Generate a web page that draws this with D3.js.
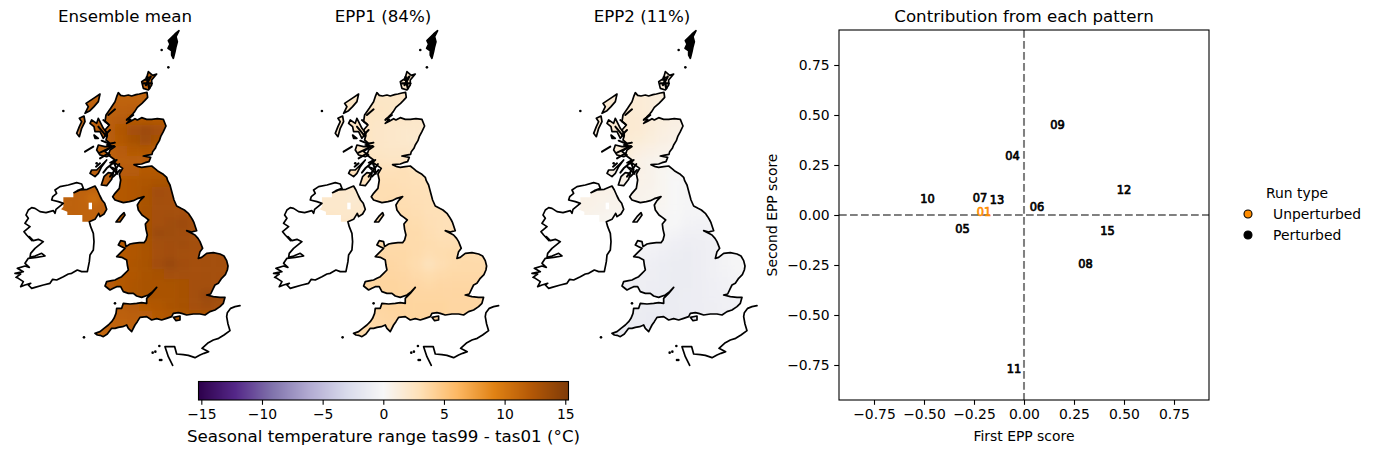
<!DOCTYPE html>
<html><head><meta charset="utf-8">
<script src="https://cdn.jsdelivr.net/npm/d3@7/dist/d3.min.js"></script>
<style>
html,body{margin:0;padding:0;background:#fff}
svg{display:block}
text{font-family:"DejaVu Sans",sans-serif;fill:#000}
</style></head><body>
<svg id="c" width="1376" height="454"></svg>
<script>
// ---------- chart data ----------
const panelTitles = ["Ensemble mean", "EPP1 (84%)", "EPP2 (11%)"];
const colourStops = ["#2d004b","#542788","#8073ac","#b2abd2","#d8daeb","#f7f7f7","#fee0b6","#fdb863","#e08214","#b35806","#7f3b08"];
const colourTicks = [-15,-10,-5,0,5,10,15];
const scoreTicks = [-0.75,-0.5,-0.25,0,0.25,0.5,0.75];
const runIds   = ["01","04","05","06","07","08","09","10","11","12","13","15"];
const epp1Score = [-0.20,-0.057,-0.307,0.065,-0.22,0.308,0.167,-0.483,-0.05,0.50,-0.135,0.417];
const epp2Score = [0.018,0.297,-0.068,0.04,0.088,-0.245,0.449,0.082,-0.77,0.125,0.075,-0.077];
const legendItems = ["Unperturbed","Perturbed"];

// Field values on a coarse raster (rows north to south, columns west to east)
const gbMean = [
[11.5,11.4,11.3,11.3,11.4,11.5,11.5,11.5,11.5,11.5,11.5,11.5,11.5,11.5],
[11.5,11.5,11.4,11.4,11.4,11.5,11.5,11.5,11.5,11.5,11.5,11.5,11.5,11.5],
[11.6,11.6,11.6,11.7,11.5,11.5,11.5,11.5,11.5,11.5,11.5,11.5,11.5,11.5],
[11.6,11.7,12.0,12.1,12.2,12.1,11.9,11.7,11.5,11.5,11.5,11.5,11.5,11.5],
[11.6,11.8,12.4,13.0,13.5,13.0,12.4,12.0,11.6,11.5,11.5,11.5,11.5,11.5],
[11.6,11.8,12.2,12.9,13.4,12.9,12.2,11.8,11.6,11.5,11.5,11.5,11.5,11.5],
[11.5,11.5,11.9,12.2,12.3,12.0,11.7,11.6,11.6,11.5,11.5,11.5,11.5,11.5],
[11.5,11.5,11.7,11.8,11.8,11.6,11.6,11.6,11.6,11.6,11.6,11.6,11.6,11.6],
[11.6,11.6,11.9,12.0,12.1,12.2,12.3,12.3,12.3,12.3,12.3,12.3,12.3,12.3],
[11.7,11.7,12.1,12.3,12.5,12.7,12.8,12.8,12.8,12.8,12.8,12.8,12.8,12.8],
[11.8,11.8,12.1,12.3,12.7,13.2,13.0,13.0,13.0,13.0,13.0,13.0,13.0,13.0],
[11.8,11.8,12.1,12.3,12.8,13.1,13.0,13.0,12.9,12.8,12.8,12.8,12.8,12.8],
[11.8,11.8,12.1,12.3,12.9,13.0,13.1,13.0,12.9,12.8,12.7,12.7,12.7,12.7],
[11.9,11.9,12.1,12.4,12.9,13.0,13.3,13.5,13.0,12.9,12.7,12.7,12.7,12.7],
[11.9,11.9,12.1,12.4,12.8,13.6,13.4,13.2,13.1,13.0,12.8,12.7,12.7,12.7],
[11.9,11.9,12.1,12.4,12.8,13.1,13.2,13.3,13.1,13.0,12.9,12.8,12.7,12.6],
[11.9,11.9,12.1,12.4,12.7,13.0,13.2,13.1,13.0,13.1,13.1,13.0,12.8,12.6],
[11.9,11.9,12.1,12.5,12.8,13.2,13.7,13.2,13.0,13.1,13.1,13.0,12.8,12.6],
[11.9,11.9,12.1,12.4,12.7,12.9,13.1,13.1,13.0,13.1,13.0,12.9,12.7,12.5],
[11.9,11.9,12.1,12.5,12.8,12.7,12.8,12.9,13.1,13.1,13.0,12.9,12.6,12.4],
[11.9,11.9,12.1,12.6,12.8,12.7,12.7,12.9,13.1,13.7,13.4,12.9,12.5,12.3],
[11.6,11.6,11.8,12.0,12.2,12.4,12.7,12.9,13.0,13.3,13.1,12.7,12.4,12.3],
[11.4,11.5,11.6,11.7,11.8,12.1,12.4,12.6,12.7,12.7,12.6,12.4,12.2,12.2],
[11.2,11.3,11.4,11.5,11.6,11.8,12.1,12.3,12.4,12.4,12.3,12.2,12.2,12.2],
[11.0,11.1,11.2,11.3,11.5,11.7,12.0,12.2,12.3,12.3,12.2,12.2,12.2,12.2],
[11.0,11.0,11.1,11.2,11.4,11.6,11.9,12.1,12.2,12.2,12.2,12.2,12.2,12.2]];
const gbEpp1 = [
[2.3,2.3,2.3,2.2,2.2,2.2,2.2,2.2,2.2,2.2,2.2,2.2,2.2,2.2],
[2.3,2.3,2.3,2.3,2.2,2.2,2.2,2.2,2.2,2.2,2.2,2.2,2.2,2.2],
[2.4,2.4,2.4,2.3,2.3,2.2,2.2,2.2,2.2,2.2,2.2,2.2,2.2,2.2],
[2.4,2.4,2.3,2.2,2.2,2.1,2.0,2.0,2.0,2.0,2.0,2.0,2.0,2.0],
[2.4,2.4,2.2,2.1,2.0,2.0,1.9,1.9,1.9,1.9,1.9,1.9,1.9,1.9],
[2.4,2.4,2.2,2.1,2.0,1.9,1.9,1.9,1.9,1.9,1.9,1.9,1.9,1.9],
[2.4,2.4,2.3,2.2,2.2,2.1,2.0,2.0,2.0,2.0,2.0,2.0,2.0,2.0],
[2.6,2.6,2.5,2.4,2.4,2.4,2.5,2.6,2.6,2.6,2.6,2.6,2.6,2.6],
[2.9,2.9,2.9,2.9,3.0,2.7,2.8,2.9,2.9,2.9,2.9,2.9,2.9,2.9],
[3.0,3.0,3.1,3.1,3.0,2.9,2.9,3.0,3.0,3.0,3.0,3.0,3.0,3.0],
[3.0,3.0,3.2,3.2,3.1,3.0,2.9,2.9,3.0,3.0,3.0,3.0,3.0,3.0],
[3.0,3.0,3.2,3.3,3.2,3.1,3.0,2.9,3.0,3.0,3.0,3.0,3.0,3.0],
[3.0,3.0,3.2,3.3,3.3,3.2,3.0,3.0,3.0,3.0,3.0,3.0,3.0,3.0],
[3.2,3.2,3.3,3.4,3.4,3.3,3.1,3.0,3.0,3.1,3.1,3.1,3.1,3.1],
[3.3,3.3,3.4,3.5,3.5,3.4,3.2,3.0,3.1,3.2,3.2,3.2,3.2,3.2],
[3.4,3.4,3.5,3.5,3.5,3.4,3.3,3.2,3.2,3.3,3.2,3.2,3.2,3.2],
[3.5,3.5,3.6,3.6,3.6,3.4,3.2,3.3,3.4,3.4,3.3,3.3,3.3,3.3],
[3.6,3.6,3.7,3.7,3.6,3.3,2.8,3.2,3.4,3.5,3.5,3.4,3.3,3.3],
[3.7,3.7,3.8,3.8,3.7,3.5,3.3,3.5,3.6,3.6,3.6,3.5,3.4,3.3],
[3.8,3.8,3.9,3.9,3.8,3.7,3.6,3.7,3.7,3.7,3.7,3.6,3.5,3.4],
[3.8,3.8,3.9,3.9,3.9,3.8,3.8,3.8,3.8,3.8,3.7,3.7,3.6,3.5],
[3.7,3.7,3.8,3.9,3.9,3.9,3.9,3.9,3.8,3.8,3.8,3.7,3.6,3.5],
[3.6,3.6,3.7,3.8,3.9,3.9,3.9,3.9,3.8,3.8,3.8,3.7,3.6,3.5],
[3.5,3.5,3.6,3.7,3.8,3.9,3.9,3.9,3.8,3.8,3.7,3.7,3.6,3.5],
[3.4,3.5,3.6,3.7,3.8,3.8,3.8,3.8,3.8,3.7,3.7,3.6,3.6,3.5],
[3.4,3.5,3.6,3.7,3.8,3.8,3.8,3.8,3.7,3.7,3.7,3.6,3.6,3.5]];
const gbEpp2 = [
[1.5,1.5,1.5,1.4,1.3,1.3,1.3,1.3,1.3,1.3,1.3,1.3,1.3,1.3],
[1.6,1.6,1.6,1.4,1.2,1.2,1.2,1.2,1.2,1.2,1.2,1.2,1.2,1.2],
[1.7,1.7,1.6,1.4,1.2,1.1,1.0,1.0,1.0,1.0,1.0,1.0,1.0,1.0],
[1.8,1.8,1.7,1.4,1.2,1.0,0.9,0.8,0.8,0.8,0.8,0.8,0.8,0.8],
[1.8,1.8,1.7,1.4,1.1,0.9,0.8,0.7,0.7,0.7,0.7,0.7,0.7,0.7],
[1.7,1.7,1.5,1.2,1.0,0.8,0.6,0.5,0.5,0.5,0.5,0.5,0.5,0.5],
[1.5,1.5,1.1,0.9,0.7,0.5,0.4,0.4,0.4,0.4,0.4,0.4,0.4,0.4],
[1.1,1.1,0.8,0.6,0.4,0.3,0.2,0.2,0.2,0.2,0.2,0.2,0.2,0.2],
[0.9,0.9,0.8,0.6,0.3,0.1,0.0,0.0,0.0,0.0,0.0,0.0,0.0,0.0],
[0.7,0.7,0.7,0.6,0.3,0.0,-0.1,-0.1,-0.1,-0.1,-0.1,-0.1,-0.1,-0.1],
[0.6,0.6,0.6,0.5,0.3,0.0,-0.2,-0.2,-0.2,-0.2,-0.2,-0.2,-0.2,-0.2],
[0.5,0.5,0.5,0.4,0.3,0.0,-0.2,-0.3,-0.3,-0.3,-0.3,-0.3,-0.3,-0.3],
[0.4,0.4,0.4,0.4,0.2,0.0,-0.3,-0.3,-0.3,-0.3,-0.3,-0.3,-0.3,-0.3],
[0.3,0.3,0.3,0.3,0.1,-0.1,-0.4,-0.5,-0.4,-0.3,-0.2,-0.2,-0.2,-0.2],
[0.1,0.1,0.0,0.0,-0.1,-0.4,-0.7,-0.7,-0.6,-0.3,-0.2,-0.2,-0.2,-0.2],
[-0.1,-0.1,-0.2,-0.3,-0.5,-0.8,-1.0,-0.9,-0.7,-0.4,-0.2,-0.1,0.0,0.0],
[-0.3,-0.3,-0.4,-0.6,-0.8,-1.1,-1.2,-1.0,-0.7,-0.4,-0.2,0.0,0.1,0.1],
[-0.5,-0.5,-0.6,-0.8,-1.1,-1.2,-1.2,-1.0,-0.7,-0.4,-0.2,-0.1,0.0,0.0],
[-0.7,-0.7,-0.8,-0.9,-1.1,-1.2,-1.2,-1.0,-0.7,-0.5,-0.3,-0.2,-0.1,0.0],
[-0.8,-0.8,-0.9,-1.0,-1.1,-1.2,-1.2,-1.0,-0.8,-0.6,-0.4,-0.3,-0.2,-0.1],
[-0.9,-0.9,-1.0,-1.1,-1.2,-1.2,-1.1,-1.0,-0.8,-0.7,-0.5,-0.4,-0.3,-0.3],
[-1.0,-1.0,-1.1,-1.2,-1.2,-1.2,-1.1,-1.0,-0.9,-0.7,-0.6,-0.5,-0.4,-0.4],
[-1.1,-1.1,-1.2,-1.3,-1.3,-1.2,-1.1,-1.0,-0.9,-0.8,-0.7,-0.6,-0.5,-0.5],
[-1.2,-1.2,-1.3,-1.3,-1.3,-1.2,-1.1,-1.0,-0.9,-0.8,-0.7,-0.6,-0.5,-0.5],
[-1.2,-1.3,-1.3,-1.3,-1.3,-1.2,-1.1,-1.0,-0.9,-0.8,-0.7,-0.6,-0.5,-0.5],
[-1.2,-1.3,-1.3,-1.3,-1.3,-1.2,-1.1,-1.0,-0.9,-0.8,-0.7,-0.6,-0.5,-0.5]];
const niMean = [[11.4,11.5,11.5,11.5,11.6],[11.4,11.5,11.3,10.6,11.6],[11.4,11.5,11.4,11.3,11.6],[11.4,11.4,11.4,11.4,11.5]];
const niEpp1 = [[2.0,2.0,2.0,2.0,2.0],[2.0,2.0,2.0,1.8,2.0],[2.1,2.0,2.0,2.0,2.0],[2.2,2.2,2.1,2.1,2.1]];
const niEpp2 = [[0.9,0.9,0.8,0.8,0.7],[0.9,0.8,0.7,0.6,0.6],[0.8,0.7,0.6,0.5,0.5],[0.7,0.5,0.4,0.3,0.3]];

// Coastlines in map-grid units
const greatBritain = [[355,218],[362,226],[372,228],[385,225],[395,228],[408,224],[418,222],[430,219],[441,217],[443,232],[434,242],[426,250],[412,262],[404,275],[398,282],[388,292],[381,298],[392,298],[380,310],[392,304],[405,296],[412,300],[425,293],[440,298],[455,298],[472,296],[490,298],[498,318],[490,335],[482,350],[478,362],[470,375],[466,385],[458,395],[456,403],[440,406],[430,408],[452,412],[447,425],[435,428],[425,432],[402,434],[415,440],[425,442],[440,440],[455,438],[465,446],[472,452],[482,458],[490,463],[500,472],[503,482],[510,495],[514,510],[518,525],[522,540],[530,558],[543,565],[553,570],[565,580],[572,590],[578,600],[582,608],[590,632],[575,636],[560,632],[575,640],[585,645],[594,655],[600,665],[608,685],[600,695],[595,715],[605,712],[620,700],[640,698],[660,702],[672,708],[680,722],[684,738],[682,750],[676,764],[665,775],[655,790],[645,795],[640,805],[632,822],[620,825],[640,830],[660,832],[675,832],[670,850],[660,860],[645,870],[630,875],[615,885],[600,882],[580,882],[560,885],[545,880],[535,878],[520,880],[515,890],[500,895],[485,900],[470,896],[455,900],[440,890],[420,892],[412,905],[405,915],[395,935],[385,925],[380,915],[368,920],[355,922],[345,925],[335,925],[322,942],[310,950],[300,946],[292,945],[285,940],[300,935],[312,925],[325,915],[335,905],[342,895],[348,880],[350,865],[365,865],[370,850],[390,852],[410,850],[425,848],[440,850],[440,835],[455,820],[470,802],[458,815],[445,825],[425,832],[410,828],[400,820],[385,820],[370,815],[362,800],[350,800],[340,805],[330,810],[315,798],[320,785],[335,782],[345,780],[355,775],[365,770],[375,760],[385,750],[382,735],[380,720],[365,712],[350,710],[362,698],[375,685],[365,680],[355,675],[362,662],[375,665],[378,680],[390,672],[400,670],[418,668],[432,668],[438,660],[442,645],[438,628],[436,612],[446,600],[436,592],[426,585],[415,570],[412,555],[420,542],[432,530],[412,536],[400,542],[388,545],[370,548],[358,544],[345,540],[338,530],[345,520],[358,505],[362,480],[358,462],[368,445],[340,425],[350,448],[330,440],[352,462],[345,432],[330,428],[345,420],[325,405],[330,390],[345,380],[320,375],[345,368],[330,370],[318,360],[322,345],[315,330],[328,315],[315,305],[318,285],[332,265],[345,245],[350,230],[355,218]];
const ireland = [[155,540],[158,530],[170,520],[165,510],[180,500],[205,495],[230,488],[245,492],[250,505],[232,512],[222,518],[240,510],[262,508],[285,498],[292,510],[300,528],[306,540],[314,550],[320,568],[312,582],[300,590],[296,580],[285,598],[268,605],[272,620],[280,640],[282,665],[280,690],[270,705],[268,725],[262,755],[245,755],[232,750],[215,760],[205,762],[190,770],[170,780],[158,778],[150,790],[130,795],[105,802],[95,805],[85,795],[92,790],[75,795],[62,800],[70,785],[55,775],[48,772],[62,762],[45,760],[70,755],[52,745],[75,738],[88,742],[75,730],[85,715],[110,712],[135,708],[125,700],[105,708],[90,712],[92,700],[105,685],[130,665],[115,658],[100,662],[88,650],[96,662],[80,645],[72,635],[90,620],[75,610],[85,595],[78,585],[85,570],[95,563],[105,565],[120,575],[138,578],[160,572],[165,580],[168,568],[190,550],[175,545]];
const niMask = [[190,532],[220,532],[220,518],[240,510],[262,508],[285,498],[292,510],[300,528],[306,540],[314,550],[320,568],[312,582],[300,590],[296,580],[285,598],[268,605],[247,605],[247,585],[202,585],[202,575],[183,568],[190,560]];
const niHole = [[266,548],[276,568]];
const islandShapes = [
 [[537,32],[525,42],[512,55],[505,62],[510,72],[504,85],[515,92],[515,105],[520,115],[525,95],[528,80],[532,65],[528,50]],
 [[445,155],[458,166],[470,162],[455,180],[455,195],[445,210],[430,205],[425,185],[445,172],[438,180]],
 [[300,222],[285,232],[258,250],[265,260],[255,280],[270,272],[282,260],[295,245]],
 [[252,288],[238,295],[245,305],[238,320],[230,340],[238,350],[245,325],[255,305]],
 [[275,300],[270,310],[282,320],[285,335],[300,335],[310,355],[322,340],[310,325],[295,295],[290,310]],
 [[282,345],[295,355],[285,355]],
 [[295,375],[290,390],[300,405],[320,410],[330,405],[315,395],[335,380],[315,380]],
 [[275,450],[270,460],[285,470],[295,460],[305,440],[320,420],[305,435],[290,450]],
 [[325,458],[312,470],[304,495],[320,497],[335,478],[340,460]],
 [[372,578],[360,590],[348,606],[360,606],[375,585]],
 [[520,892],[528,902],[540,900],[540,888]]
];
const orkneyChannels = [[[430,190],[455,190]],[[440,172],[448,205]],[[452,170],[438,195]]];
const seaLochLines = [
 [[255,395],[280,380]],[[350,420],[320,445],[310,458]],[[358,432],[330,470]],[[342,378],[300,398]],[[330,372],[305,362]],[[360,450],[340,470]],[[300,415],[325,400]],[[320,350],[295,320]],[[330,330],[315,345]],[[300,430],[288,440]],[[310,300],[325,312]],[[345,268],[325,285]],[[380,300],[400,285]]
];
const smallIslets = [[485,90],[505,142],[190,273],[252,952],[345,850],[458,998],[466,995],[480,1020],[484,1020],[478,978],[290,430]];
const france = [[720,857],[705,860],[692,865],[682,878],[680,890],[684,912],[690,932],[672,945],[656,955],[640,960],[625,968],[606,985],[626,995],[612,1000],[600,1005],[585,1013],[565,1006],[550,1004],[530,1002],[524,980],[495,980],[505,1010],[518,1036]];

// ---------- drawing ----------
const svg = d3.select("#c");
const defs = svg.append("defs");
const colour = d3.scaleLinear().domain(d3.range(11).map(i => -15.25 + i * 3.05)).range(colourStops).clamp(true);
defs.append("filter").attr("id","soft").attr("filterUnits","userSpaceOnUse")
  .attr("x",0).attr("y",0).attr("width",1376).attr("height",454)
  .append("feGaussianBlur").attr("stdDeviation",3);

const panelShift = [0, 258.6, 517.0];
const fields = [[gbMean,niMean],[gbEpp1,niEpp1],[gbEpp2,niEpp2]];

panelTitles.forEach((title, p) => {
  const X = d3.scaleLinear().domain([0,780]).range([panelShift[p], panelShift[p]+260]);
  const Y = d3.scaleLinear().domain([0,1050]).range([20,370]);
  const line = d3.line().x(d => X(d[0])).y(d => Y(d[1]));
  const g = svg.append("g");
  const clip = defs.append("clipPath").attr("id","land"+p);
  [greatBritain, niMask, ...islandShapes].forEach(s => clip.append("path").attr("d", line(s)+"Z"));
  const raster = g.append("g").attr("clip-path",`url(#land${p})`).append("g").attr("filter","url(#soft)");
  const drawGrid = (rows,x0,y0,cw,ch) => rows.forEach((row,r) => row.forEach((v,c) => {
    raster.append("rect").attr("x",X(x0+c*cw)).attr("y",Y(y0+r*ch))
      .attr("width",X(cw)-X(0)+.6).attr("height",Y(ch)-Y(0)+.6).attr("fill",colour(v));
  }));
  drawGrid(fields[p][0],270,190,37,31);
  drawGrid([fields[p][0][0]],270,20,37,170);
  drawGrid(fields[p][0].map(r=>[r[0]]),230,190,40,31);
  drawGrid(fields[p][1],170,490,32,30);
  g.append("rect").attr("x",X(niHole[0][0])).attr("y",Y(niHole[0][1]))
    .attr("width",X(niHole[1][0])-X(niHole[0][0])).attr("height",Y(niHole[1][1])-Y(niHole[0][1])).attr("fill","#fff");
  const ink = g.append("g").attr("fill","none").attr("stroke","#000").attr("stroke-width",1.7).attr("stroke-linejoin","round").attr("stroke-linecap","round");
  [greatBritain, ireland, ...islandShapes].forEach(s => ink.append("path").attr("d",line(s)+"Z"));
  seaLochLines.forEach(s => ink.append("path").attr("d",line(s)).attr("stroke-width",2));
  orkneyChannels.forEach(s => ink.append("path").attr("d",line(s)).attr("stroke-width",2.4));
  ink.append("path").attr("d",line(france));
  g.append("path").attr("d",line(islandShapes[0])+"Z").attr("fill","#000");
  g.selectAll("circle").data(smallIslets).join("circle").attr("cx",d=>X(d[0])).attr("cy",d=>Y(d[1])).attr("r",1.3).attr("fill","#000");
  svg.append("text").attr("x",[125,383,642][p]).attr("y",22).attr("text-anchor","middle").attr("font-size",16.67).text(title);
});

// colour bar
const cbX = d3.scaleLinear().domain([-15.25,15.25]).range([198.3,568.3]);
const cbG = svg.append("g").attr("shape-rendering","crispEdges");
d3.range(198,569).forEach(px => cbG.append("rect").attr("x",px).attr("y",381).attr("width",1).attr("height",19).attr("fill",colour(cbX.invert(px+.5))));
svg.append("rect").attr("x",198.5).attr("y",381.5).attr("width",370).attr("height",18.5).attr("fill","none").attr("stroke","#000").attr("stroke-width",1.1);
const cbAxis = d3.axisBottom(cbX).tickValues(colourTicks).tickSize(4.8).tickPadding(4.5).tickFormat(d3.format("d"));
const cbA = svg.append("g").attr("transform","translate(0,400)").call(cbAxis);
cbA.select(".domain").remove();
cbA.selectAll("line").attr("stroke-width",1.1);
cbA.selectAll("text").attr("font-size",13.9).attr("font-family","DejaVu Sans");
svg.append("text").attr("x",383.5).attr("y",442).attr("text-anchor","middle").attr("font-size",16.7).text("Seasonal temperature range tas99 - tas01 (°C)");

// score scatter
const sx = d3.scaleLinear().domain([-0.925,0.925]).range([839,1209]);
const sy = d3.scaleLinear().domain([-0.925,0.925]).range([400,30]);
const score = svg.append("g");
score.append("line").attr("x1",839).attr("x2",1209).attr("y1",sy(0)).attr("y2",sy(0));
score.append("line").attr("y1",30).attr("y2",400).attr("x1",sx(0)).attr("x2",sx(0));
score.selectAll("line").attr("stroke","#808080").attr("stroke-width",2.05).attr("stroke-dasharray","7.7,3.3");
score.selectAll("text").data(runIds).join("text")
  .attr("x",(d,i)=>sx(epp1Score[i])).attr("y",(d,i)=>sy(epp2Score[i])).attr("dy","0.36em")
  .attr("text-anchor","middle").attr("font-size",11.4)
  .style("fill",d=>d==="01"?"#ff8c00":"#000").style("stroke",d=>d==="01"?"#ff8c00":"#000").style("stroke-width",0.7)
  .text(d=>d);
const fmt = d3.format(".2f");
const ax = svg.append("g").attr("transform","translate(0,400)").call(d3.axisBottom(sx).tickValues(scoreTicks).tickSize(4.8).tickPadding(4.5).tickFormat(fmt));
const ay = svg.append("g").attr("transform","translate(839,0)").call(d3.axisLeft(sy).tickValues(scoreTicks).tickSize(4.8).tickPadding(4.5).tickFormat(fmt));
[ax,ay].forEach(a=>{a.select(".domain").remove();a.selectAll("line").attr("stroke-width",1.1);a.selectAll("text").attr("font-size",13.9).attr("font-family","DejaVu Sans");});
svg.append("rect").attr("x",839).attr("y",30).attr("width",370).attr("height",370).attr("fill","none").attr("stroke","#000").attr("stroke-width",1.1);
svg.append("text").attr("x",1024).attr("y",22).attr("text-anchor","middle").attr("font-size",16.67).text("Contribution from each pattern");
svg.append("text").attr("x",1024).attr("y",441).attr("text-anchor","middle").attr("font-size",13.9).text("First EPP score");
svg.append("text").attr("transform","translate(777,215) rotate(-90)").attr("text-anchor","middle").attr("font-size",13.9).text("Second EPP score");

// legend
svg.append("text").attr("x",1297).attr("y",198).attr("text-anchor","middle").attr("font-size",13.9).text("Run type");
legendItems.forEach((t,i)=>{
  const y = 214 + i*21;
  svg.append("circle").attr("cx",1248).attr("cy",y).attr("r",4).attr("fill",i?"#000":"#ff8c00").attr("stroke","#000").attr("stroke-width",1.1);
  svg.append("text").attr("x",1273).attr("y",y+4.7).attr("font-size",13.9).text(t);
});
</script>
</body></html>
